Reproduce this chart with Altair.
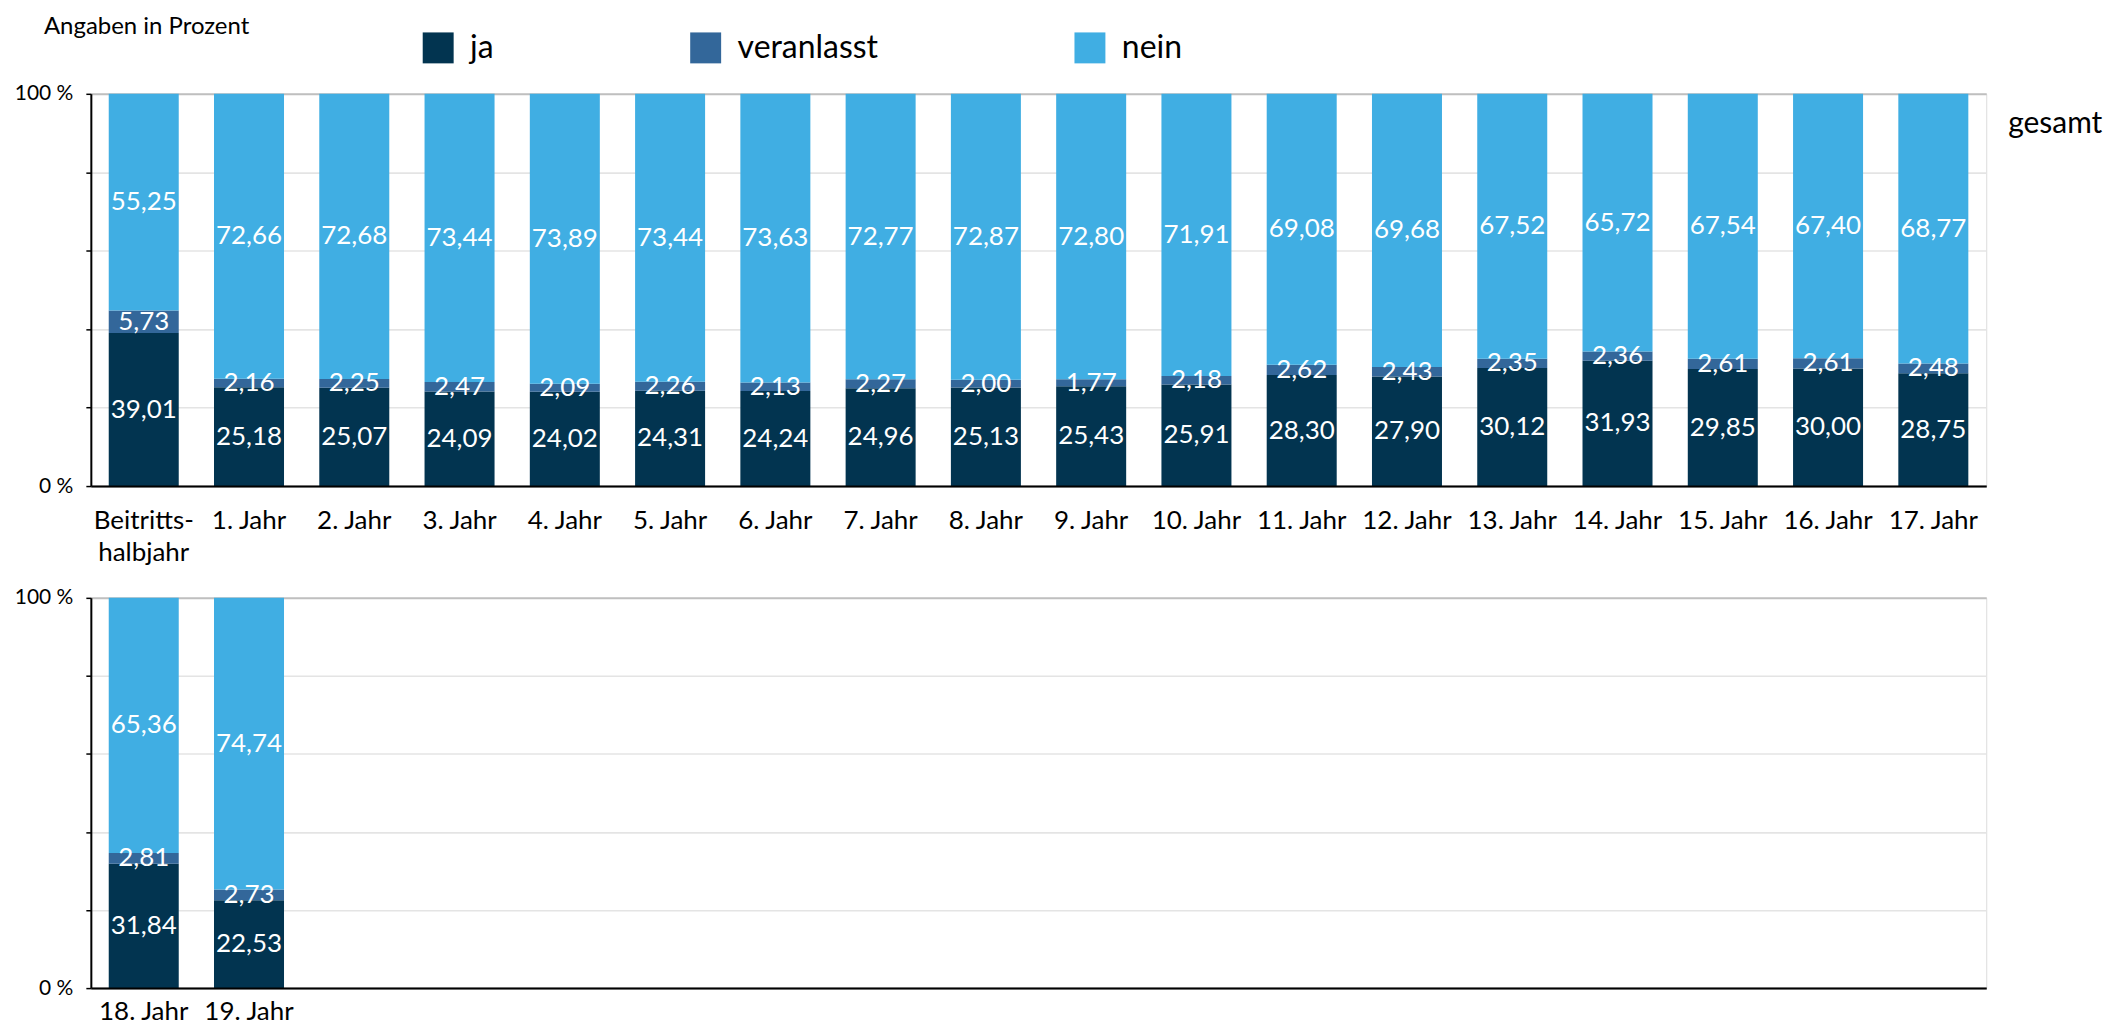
import altair as alt
import pandas as pd

# ---- data ----
cats_top = ["Beitritts-\nhalbjahr", "1. Jahr", "2. Jahr", "3. Jahr", "4. Jahr", "5. Jahr",
            "6. Jahr", "7. Jahr", "8. Jahr", "9. Jahr", "10. Jahr", "11. Jahr", "12. Jahr",
            "13. Jahr", "14. Jahr", "15. Jahr", "16. Jahr", "17. Jahr"]
ja_top = [39.01, 25.18, 25.07, 24.09, 24.02, 24.31, 24.24, 24.96, 25.13, 25.43, 25.91,
          28.30, 27.90, 30.12, 31.93, 29.85, 30.00, 28.75]
veranlasst_top = [5.73, 2.16, 2.25, 2.47, 2.09, 2.26, 2.13, 2.27, 2.00, 1.77, 2.18,
                  2.62, 2.43, 2.35, 2.36, 2.61, 2.61, 2.48]
nein_top = [55.25, 72.66, 72.68, 73.44, 73.89, 73.44, 73.63, 72.77, 72.87, 72.80, 71.91,
            69.08, 69.68, 67.52, 65.72, 67.54, 67.40, 68.77]

cats_bottom = ["18. Jahr", "19. Jahr"]
ja_bottom = [31.84, 22.53]
veranlasst_bottom = [2.81, 2.73]
nein_bottom = [65.36, 74.74]

series = ["ja", "veranlasst", "nein"]
colors = ["#023450", "#33679A", "#40AEE3"]
panel_label = "gesamt"
y_title = "Angaben in Prozent"

FONT = "Lato"


def build_df(cats, ja, ver, nein):
    rows = []
    for i, c in enumerate(cats):
        start = 0.0
        for k, (s, v) in enumerate(zip(series, [ja[i], ver[i], nein[i]])):
            rows.append({"cat": c, "serie": s, "order": k, "value": v,
                         "y0": start, "y1": start + v, "mid": start + v / 2,
                         "label": f"{v:.2f}".replace(".", ",")})
            start += v
    return pd.DataFrame(rows)


df_top = build_df(cats_top, ja_top, veranlasst_top, nein_top)
df_bottom = build_df(cats_bottom, ja_bottom, veranlasst_bottom, nein_bottom)

W = 1899
H_TOP = 393
H_BOT = 391

color_scale = alt.Scale(domain=series, range=colors)
legend = alt.Legend(orient="none", legendX=332, legendY=-62, direction="horizontal",
                    title=None, symbolType="square", symbolSize=961, symbolStrokeWidth=0,
                    labelFontSize=32, labelFont=FONT, labelOffset=16, columnPadding=196,
                    padding=0, labelColor="#000000")

y_axis = alt.Axis(values=list(range(0, 101, 10)),
                  labelExpr="datum.value % 50 == 0 ? datum.value + ' %' : ''",
                  labelFontSize=21, labelFont=FONT, labelColor="#000000", labelPadding=13,
                  tickSize=5, tickColor="#000000", tickWidth=1.5,
                  domainColor="#000000", domainWidth=2,
                  gridColor={"condition": {"test": "datum.value % 50 == 0", "value": "#BFBFBF"},
                             "value": "#E4E4E4"},
                  gridWidth={"condition": {"test": "datum.value % 50 == 0", "value": 2},
                             "value": 1.6},
                  title=None)

label_expr = "indexof(datum.label, '_') == 0 ? '' : split(datum.label, '\\n')"


def make_x_axis(pad):
    return alt.Axis(labelAngle=0, ticks=False, domainColor="#000000", domainWidth=2,
                    labelFontSize=26, labelFont=FONT, labelColor="#000000", labelPadding=pad,
                    labelLineHeight=32, labelExpr=label_expr, title=None, zindex=1,
                    labelLimit=0)


def panel(df, domain, height, pad, title=None, with_label=False):
    xenc = alt.X("cat:N", scale=alt.Scale(domain=domain, paddingInner=0.335, paddingOuter=0.17),
                 axis=make_x_axis(pad), sort=domain)
    base = alt.Chart(df)
    bars = base.mark_bar(stroke=None).encode(
        x=xenc,
        y=alt.Y("y0:Q", scale=alt.Scale(domain=[0, 100], nice=False), axis=y_axis),
        y2="y1:Q",
        color=alt.Color("serie:N", scale=color_scale, legend=legend, sort=series),
        order="order:Q",
    )
    texts = base.mark_text(color="white", fontSize=26, font=FONT, baseline="middle").encode(
        x=alt.X("cat:N", sort=domain),
        y=alt.Y("mid:Q"),
        text="label:N",
    )
    layers = [bars, texts]
    if with_label:
        lab = alt.Chart(pd.DataFrame({"t": [panel_label]})).mark_text(
            align="left", baseline="middle", fontSize=30, font=FONT, color="#000000"
        ).encode(x=alt.value(W + 22), y=alt.value(30), text="t:N")
        layers.append(lab)
    ch = alt.layer(*layers).properties(width=W, height=height)
    if title is not None:
        ch = ch.properties(title=title)
    return ch


top = panel(df_top, cats_top, H_TOP, 22,
            title=alt.TitleParams(y_title, anchor="start", frame="group", fontSize=24,
                                  font=FONT, fontWeight="normal", color="#000000",
                                  offset=44, dx=-47),
            with_label=True)

bottom_domain = cats_bottom + [f"_{i}" for i in range(3, 19)]
bottom = panel(df_bottom, bottom_domain, H_BOT, 10)

chart = alt.vconcat(top, bottom, spacing=19).properties(
    padding={"left": 5, "top": 5, "right": 0, "bottom": 0}
).configure_view(stroke=None).configure(font=FONT)

chart.save("out.html", embed_options={"renderer": "svg", "actions": False})
